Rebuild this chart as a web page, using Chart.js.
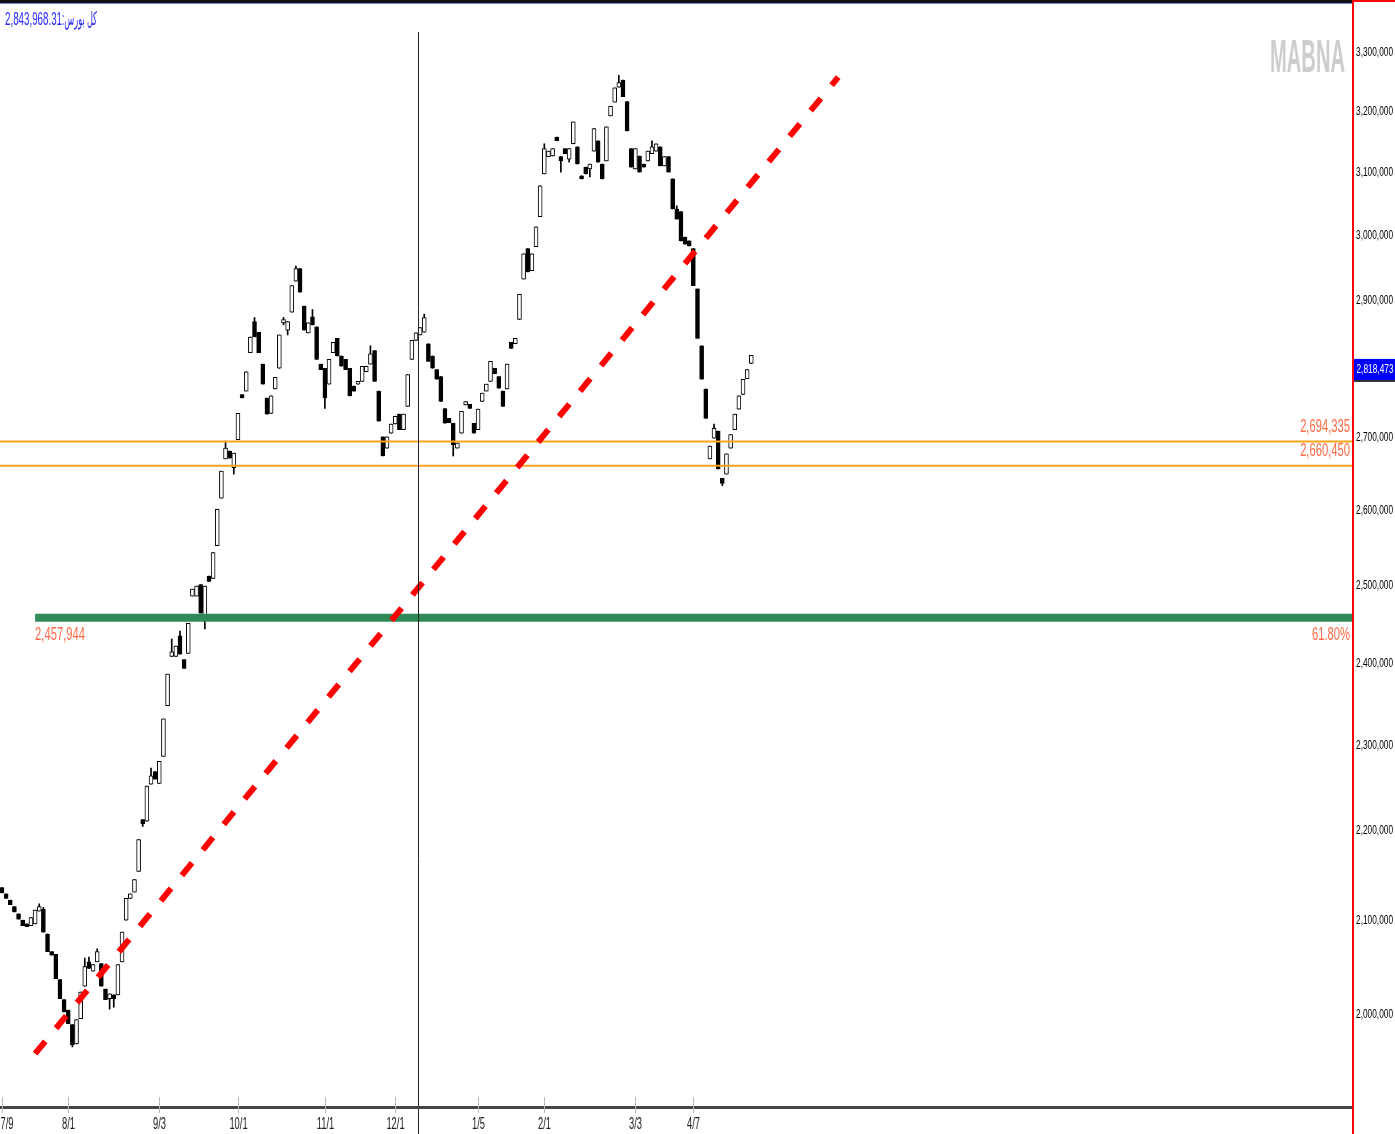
<!DOCTYPE html>
<html>
<head>
<meta charset="utf-8">
<script src="https://cdn.jsdelivr.net/npm/chart.js@4.4.1/dist/chart.umd.min.js"></script>
<style>
  html, body { margin: 0; padding: 0; background: #fff; }
  #wrap { width: 1395px; height: 1134px; }
</style>
</head>
<body>
<div id="wrap"><canvas id="chart" width="1395" height="1134"></canvas></div>
<script>
'use strict';

//***********Data (index points, in thousands)***********
let openK = [
  2136, 2129, 2122, 2115, 2107, 2100, 2096, 2094, 2096, 2110,
  2112, 2085, 2066, 2063, 2036, 2015, 2004, 1989, 1969, 1995,
  2029, 2055, 2045, 2055, 2053, 2026, 2016, 2020, 2020, 2055,
  2100, 2124, 2131, 2154, 2213, 2211, 2254, 2269, 2255, 2287,
  2348, 2409, 2409, 2435, 2405, 2413, 2486, 2486, 2501, 2460,
  2512, 2509, 2552, 2616, 2670, 2681, 2658, 2697, 2761, 2766,
  2822, 2868, 2852, 2805, 2756, 2734, 2769, 2799, 2866, 2855,
  2882, 2929, 2948, 2891, 2851, 2875, 2860, 2805, 2799, 2776,
  2822, 2843, 2817, 2812, 2799, 2773, 2776, 2780, 2794, 2805,
  2825, 2766, 2701, 2685, 2706, 2719, 2733, 2711, 2744, 2812,
  2840, 2848, 2852, 2835, 2817, 2797, 2787, 2741, 2727, 2720,
  2685, 2706, 2746, 2747, 2720, 2711, 2751, 2766, 2780, 2799,
  2787, 2766, 2769, 2837, 2835, 2871, 2932, 2979, 2945, 2982,
  3029, 3097, 3125, 3126, 3157, 3125, 3138, 3121, 3146, 3141,
  3094, 3108, 3105, 3134, 3151, 3113, 3118, 3192, 3215, 3240,
  3252, 3216, 3138, 3105, 3126, 3113, 3118, 3130, 3134, 3141,
  3110, 3125, 3089, 3041, 3037, 2997, 2991, 2979, 2917, 2832,
  2769, 2670, 2699, 2709, 2643, 2649, 2685, 2711, 2740, 2761,
  2784, 2806
];
let highK = [
  2136, 2129, 2122, 2115, 2107, 2100, 2096, 2103, 2111, 2118,
  2114, 2085, 2066, 2063, 2036, 2015, 2004, 1989, 1994, 2023,
  2059, 2060, 2052, 2069, 2053, 2026, 2021, 2020, 2052, 2087,
  2124, 2129, 2145, 2190, 2213, 2252, 2273, 2269, 2281, 2332,
  2387, 2431, 2422, 2441, 2405, 2451, 2495, 2499, 2501, 2499,
  2512, 2543, 2601, 2653, 2695, 2681, 2678, 2734, 2761, 2794,
  2845, 2874, 2852, 2805, 2756, 2759, 2786, 2848, 2874, 2868,
  2922, 2952, 2948, 2891, 2866, 2886, 2860, 2805, 2799, 2812,
  2837, 2843, 2817, 2812, 2799, 2773, 2780, 2802, 2802, 2832,
  2825, 2766, 2701, 2701, 2719, 2730, 2733, 2733, 2790, 2840,
  2851, 2859, 2879, 2835, 2817, 2797, 2787, 2741, 2727, 2720,
  2692, 2737, 2751, 2747, 2720, 2740, 2763, 2776, 2809, 2799,
  2787, 2766, 2805, 2837, 2843, 2909, 2971, 2979, 2971, 3013,
  3078, 3146, 3134, 3138, 3157, 3125, 3138, 3138, 3182, 3141,
  3094, 3108, 3113, 3171, 3151, 3113, 3174, 3208, 3239, 3260,
  3252, 3216, 3138, 3138, 3126, 3113, 3134, 3151, 3146, 3141,
  3125, 3125, 3089, 3046, 3037, 2997, 2991, 2979, 2917, 2832,
  2769, 2688, 2719, 2709, 2643, 2677, 2704, 2733, 2759, 2783,
  2797, 2818
];
let lowK = [
  2130, 2124, 2117, 2109, 2101, 2094, 2093, 2094, 2096, 2110,
  2087, 2066, 2062, 2037, 2016, 2002, 1990, 1966, 1969, 1995,
  2029, 2048, 2045, 2055, 2029, 2015, 2005, 2007, 2020, 2055,
  2100, 2124, 2131, 2154, 2205, 2211, 2254, 2260, 2255, 2287,
  2348, 2409, 2409, 2412, 2394, 2413, 2486, 2486, 2464, 2444,
  2505, 2509, 2552, 2616, 2670, 2671, 2649, 2697, 2756, 2766,
  2822, 2845, 2822, 2776, 2733, 2734, 2769, 2799, 2863, 2848,
  2882, 2929, 2912, 2855, 2851, 2863, 2812, 2797, 2741, 2776,
  2822, 2817, 2802, 2797, 2759, 2766, 2776, 2780, 2794, 2805,
  2780, 2723, 2674, 2685, 2706, 2719, 2711, 2711, 2744, 2812,
  2840, 2848, 2852, 2809, 2799, 2783, 2751, 2720, 2721, 2674,
  2685, 2706, 2746, 2741, 2706, 2711, 2751, 2766, 2780, 2791,
  2770, 2744, 2769, 2828, 2835, 2871, 2932, 2943, 2945, 2982,
  3029, 3097, 3125, 3126, 3151, 3100, 3130, 3116, 3146, 3113,
  3089, 3097, 3092, 3134, 3116, 3089, 3118, 3192, 3215, 3240,
  3224, 3167, 3108, 3105, 3100, 3108, 3118, 3130, 3134, 3110,
  3110, 3100, 3041, 3025, 2991, 2986, 2983, 2922, 2843, 2783,
  2727, 2670, 2699, 2656, 2633, 2649, 2685, 2711, 2740, 2761,
  2784, 2806
];
let closeK = [
  2130, 2124, 2117, 2109, 2101, 2094, 2093, 2103, 2111, 2115,
  2087, 2066, 2062, 2037, 2016, 2002, 1990, 1968, 1994, 2023,
  2050, 2048, 2052, 2066, 2029, 2015, 2021, 2016, 2052, 2087,
  2124, 2129, 2145, 2190, 2208, 2252, 2264, 2260, 2281, 2332,
  2387, 2415, 2422, 2412, 2394, 2451, 2495, 2499, 2464, 2499,
  2505, 2543, 2601, 2653, 2685, 2671, 2678, 2734, 2756, 2794,
  2845, 2845, 2822, 2776, 2733, 2759, 2786, 2848, 2871, 2868,
  2922, 2948, 2912, 2855, 2866, 2863, 2812, 2797, 2756, 2812,
  2837, 2817, 2802, 2797, 2759, 2766, 2780, 2802, 2802, 2820,
  2780, 2723, 2674, 2701, 2719, 2730, 2711, 2733, 2790, 2840,
  2851, 2859, 2874, 2809, 2799, 2783, 2751, 2720, 2721, 2690,
  2692, 2737, 2751, 2741, 2706, 2740, 2763, 2776, 2809, 2791,
  2770, 2744, 2805, 2828, 2843, 2909, 2971, 2943, 2971, 3013,
  3078, 3138, 3134, 3138, 3151, 3118, 3130, 3138, 3182, 3113,
  3089, 3097, 3113, 3171, 3116, 3089, 3174, 3208, 3239, 3248,
  3224, 3167, 3108, 3138, 3100, 3108, 3134, 3141, 3146, 3110,
  3125, 3100, 3041, 3025, 2991, 2986, 2983, 2922, 2843, 2783,
  2727, 2688, 2713, 2656, 2636, 2677, 2704, 2733, 2759, 2783,
  2797, 2818
];

// date ticks (candle index -> label)
let dateLabels = ['7/9', '8/1', '9/3', '10/1', '11/1', '12/1', '1/5', '2/1', '3/3', '4/7'];
let dateIndex = [0, 16, 38, 57, 78, 95, 115, 131, 153, 167];

let yTickValues = [2000000, 2100000, 2200000, 2300000, 2400000, 2500000, 2600000,
  2700000, 2800000, 2900000, 3000000, 3100000, 3200000, 3300000];

let lastPrice = 2818473;
let marketValue = '2,843,968.31';
let marketName = 'کل بورس:';
let supportLevels = [2694335, 2660450];
let fibLevel = 2457944;
let fibLabel = '61.80%';
let trendIdx = [8, 202];
let trendVal = [1959000, 3257000];
let cursorIdx = 100.5;

// axis ranges
let xMin = -0.48;
let xMax = 326.1;
let yMin = 1905400;
let yMax = 3381700;

//***********Helpers***********
function drawText(ctx, text, x, y, opt) {
  ctx.save();
  ctx.font = (opt.bold ? 'bold ' : '') + opt.size + 'px "Liberation Sans", "DejaVu Sans", sans-serif';
  ctx.fillStyle = opt.color;
  ctx.textBaseline = opt.baseline || 'middle';
  ctx.textAlign = opt.align || 'left';
  if (opt.rtl) ctx.direction = 'rtl';
  let sx = opt.sx || 1;
  if (opt.width) sx = opt.width / ctx.measureText(text).width;
  ctx.translate(x, y);
  ctx.scale(sx, 1);
  ctx.fillText(text, 0, 0);
  ctx.restore();
}

function fmt(v) {
  return v.toLocaleString('en-US');
}

//***********Build datasets***********
let bodies = [];
let wicks = [];
let bodyColors = [];
for (let i = 0; i < openK.length; i++) {
  bodies.push({ x: i, y: [openK[i] * 1000, closeK[i] * 1000] });
  wicks.push({ x: i, y: [lowK[i] * 1000, highK[i] * 1000] });
  bodyColors.push(closeK[i] >= openK[i] ? '#ffffff' : '#000000');
}

//***********Decorations plugin***********
const chartDecor = {
  id: 'chartDecor',
  beforeDraw(chart) {
    let ctx = chart.ctx;
    ctx.save();
    ctx.fillStyle = '#ffffff';
    ctx.fillRect(0, 0, chart.width, chart.height);
    ctx.restore();
  },
  afterDatasetsDraw(chart) {
    let ctx = chart.ctx;
    let xs = chart.scales.x;
    let ys = chart.scales.y;
    let area = chart.chartArea;
    let W = chart.width;
    let H = chart.height;

    ctx.save();
    // cursor line
    let cx = Math.round(xs.getPixelForValue(cursorIdx)) + 0.5;
    ctx.strokeStyle = '#222';
    ctx.lineWidth = 1;
    ctx.beginPath();
    ctx.moveTo(cx, 32);
    ctx.lineTo(cx, H);
    ctx.stroke();

    // top border
    ctx.fillStyle = '#111';
    ctx.fillRect(0, 0, area.right, 3);
    ctx.fillStyle = '#6d8fd0';
    ctx.fillRect(0, 3, area.right, 1);
    ctx.fillStyle = '#ff0000';
    ctx.fillRect(area.right, 0, W - area.right, 2);
    // right axis line
    ctx.fillRect(area.right, 0, 2, H);

    // x axis
    ctx.fillStyle = '#444';
    ctx.fillRect(0, area.bottom - 1, area.right, 3);
    ctx.strokeStyle = '#bbbbbb';
    for (let i = 0; i < dateIndex.length; i++) {
      let px = Math.round(xs.getPixelForValue(dateIndex[i])) + 0.5;
      ctx.beginPath();
      ctx.moveTo(px, area.bottom - 10);
      ctx.lineTo(px, area.bottom + 6);
      ctx.stroke();
      let lx = Math.max(px, 7);
      drawText(ctx, dateLabels[i], lx, area.bottom + 17, { size: 17, sx: 0.55, color: '#222', align: 'center' });
    }

    // y axis labels
    for (let v of yTickValues) {
      let py = ys.getPixelForValue(v);
      drawText(ctx, fmt(v), area.right + 4, py, { size: 13, sx: 0.64, color: '#000' });
    }

    // current price box
    let pp = ys.getPixelForValue(lastPrice);
    ctx.fillStyle = '#333';
    ctx.fillRect(area.right + 2, pp + 4, W - area.right - 2, 23);
    ctx.fillStyle = '#0000ff';
    ctx.fillRect(area.right + 2, pp + 4, W - area.right - 2, 21);
    drawText(ctx, fmt(lastPrice), area.right + 23, pp + 14.5, { size: 13, sx: 0.64, color: '#ffffff', align: 'center' });

    // level labels
    for (let lv of supportLevels) {
      let py = ys.getPixelForValue(lv);
      drawText(ctx, fmt(lv), area.right - 2, py - 15, { size: 19, sx: 0.59, color: '#ff6a45', align: 'right' });
    }
    let gy = ys.getPixelForValue(fibLevel);
    drawText(ctx, fmt(fibLevel), xs.getPixelForValue(trendIdx[0]), gy + 17, { size: 19, sx: 0.59, color: '#ff6a45' });
    drawText(ctx, fibLabel, area.right - 2, gy + 17, { size: 19, sx: 0.59, color: '#ff6a45', align: 'right' });

    // header text
    drawText(ctx, marketValue, 5, 20, { size: 19, width: 57, color: '#2a2aff' });
    drawText(ctx, marketName, 62, 20, { size: 19, width: 35, color: '#2a2aff', rtl: true, align: 'left' });

    // watermark
    drawText(ctx, 'MABNA', 1270, 72, { size: 47, bold: true, width: 75, color: '#cdcdcd', baseline: 'alphabetic' });
    ctx.restore();
  }
};

//***********Chart***********
let ctx = document.getElementById('chart').getContext('2d');
new Chart(ctx, {
  type: 'bar',
  data: {
    datasets: [
      {
        type: 'line',
        data: [{ x: trendIdx[0], y: trendVal[0] }, { x: trendIdx[1], y: trendVal[1] }],
        borderColor: '#ff0000',
        borderWidth: 6,
        borderDash: [16, 17],
        pointRadius: 0,
        order: 1
      },
      {
        type: 'line',
        data: [{ x: trendIdx[0], y: fibLevel }, { x: xMax, y: fibLevel }],
        borderColor: '#2e8b57',
        borderWidth: 8,
        pointRadius: 0,
        order: 2
      },
      {
        type: 'line',
        data: [{ x: xMin, y: supportLevels[0] }, { x: xMax, y: supportLevels[0] }],
        borderColor: '#ffa31a',
        borderWidth: 2,
        pointRadius: 0,
        order: 3
      },
      {
        type: 'line',
        data: [{ x: xMin, y: supportLevels[1] }, { x: xMax, y: supportLevels[1] }],
        borderColor: '#ffa31a',
        borderWidth: 2,
        pointRadius: 0,
        order: 3
      },
      {
        type: 'bar',
        data: bodies,
        backgroundColor: bodyColors,
        borderColor: '#000000',
        borderWidth: 1,
        borderSkipped: false,
        barThickness: 4,
        grouped: false,
        order: 4
      },
      {
        type: 'bar',
        data: wicks,
        backgroundColor: '#000000',
        barThickness: 1,
        grouped: false,
        order: 5
      }
    ]
  },
  options: {
    animation: false,
    responsive: false,
    devicePixelRatio: 1,
    layout: { padding: { left: 0, right: 43, top: 5, bottom: 27 } },
    plugins: { legend: { display: false }, tooltip: { enabled: false } },
    scales: {
      x: { type: 'linear', min: xMin, max: xMax, display: false, offset: false, bounds: 'data' },
      y: { type: 'logarithmic', min: yMin, max: yMax, display: false, bounds: 'data' }
    }
  },
  plugins: [chartDecor]
});
</script>
</body>
</html>
